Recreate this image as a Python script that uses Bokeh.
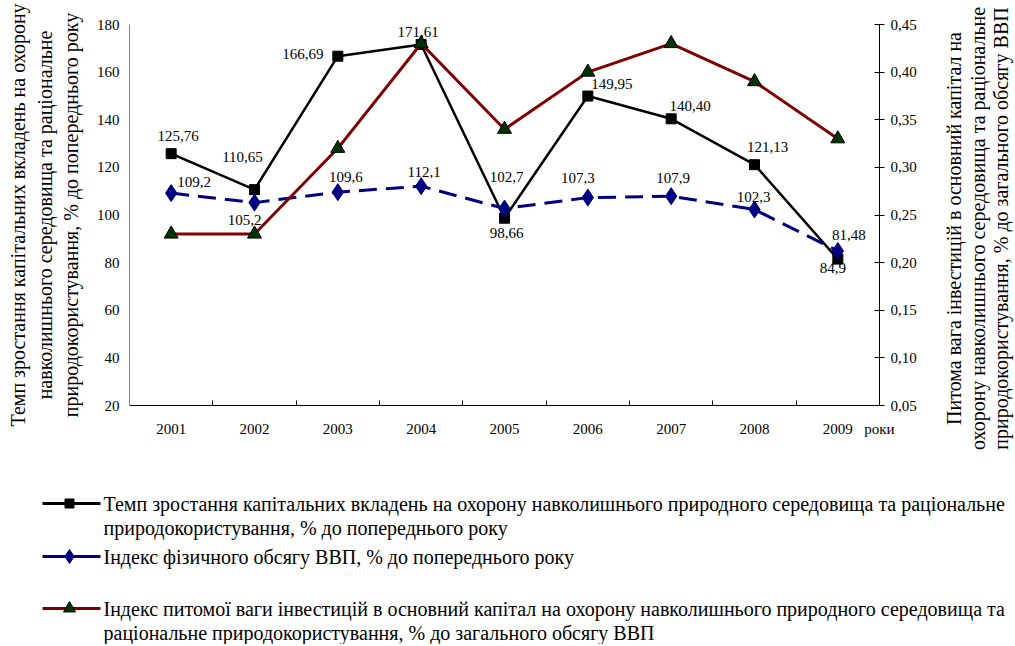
import math
from bokeh.plotting import figure
from bokeh.models import Range1d, LinearAxis, FixedTicker, CustomJSTickFormatter, ColumnDataSource
from bokeh.layouts import column, row
from bokeh.embed import file_html
from bokeh.resources import INLINE
from bokeh.core.properties import value

# ---------------- data ----------------
years = [2001, 2002, 2003, 2004, 2005, 2006, 2007, 2008, 2009]
capex_growth = [125.76, 110.65, 166.69, 171.61, 98.66, 149.95, 140.40, 121.13, 81.48]
gdp_index = [109.2, 105.2, 109.6, 112.1, 102.7, 107.3, 107.9, 102.3, 84.9]
invest_share = [0.23, 0.23, 0.32, 0.43, 0.34, 0.40, 0.43, 0.39, 0.33]
left_ticks = [20, 40, 60, 80, 100, 120, 140, 160, 180]
right_ticks = [0.05, 0.10, 0.15, 0.20, 0.25, 0.30, 0.35, 0.40, 0.45]

left_title = ("Темп зростання капітальних вкладень на охорону\n"
              "навколишнього середовища та раціональне\n"
              "природокористування, % до попереднього року")
right_title_lines = ["Питома вага інвестицій в основний капітал на",
                     "охорону навколишнього середовища та раціональне",
                     "природокористування, % до загального обсягу ВВП"]
x_unit = "роки"
legend_texts = [
    ["Темп зростання капітальних вкладень на охорону навколишнього природного середовища та раціональне",
     "природокористування, % до попереднього року"],
    ["Індекс фізичного обсягу ВВП, % до попереднього року"],
    ["Індекс питомої ваги інвестицій в основний капітал на охорону навколишнього природного середовища та",
     "раціональне природокористування,  % до загального обсягу ВВП"],
]

# label placement offsets (screen px, +dx right, +dy down)
capex_dx = [7, -12, -35, -3, 2, 24, 19, 13, 11]
capex_dy = [-18, -33, -2, -12, 15, -12, -13, -18, -24]
gdp_dx = [23, -10, 8, 3, 2, -10, 2, -1, -5]
gdp_dy = [-11, 17, -15, -14, -32, -20, -18, -13, 17]

FONT = "Liberation Serif"
BLACK = "#000000"
NAVY = "#000080"
MAROON = "#800000"
TRI_FILL = "#003300"

def fmt(v, d):
    return f"{v:.{d}f}".replace(".", ",")

W_MAIN = 940
H_MAIN = 488

# ---------------- main chart ----------------
p = figure(width=W_MAIN, height=H_MAIN, x_range=Range1d(2000.5, 2009.5), y_range=Range1d(20, 180),
           output_backend="svg", toolbar_location=None,
           min_border_left=129, min_border_right=W_MAIN - 879, min_border_top=24, min_border_bottom=83)
p.frame_align = False
p.extra_y_ranges = {"share": Range1d(0.05, 0.45)}
p.grid.visible = False
p.outline_line_color = None
p.border_fill_color = "white"

xa = p.xaxis[0]
xa.ticker = FixedTicker(ticks=years + [years[-1] + 0.5], minor_ticks=[y + 0.5 for y in years])
xa.formatter = CustomJSTickFormatter(args=dict(unit=x_unit, last=years[-1]),
                                     code="return tick > last + 0.25 ? unit : tick.toFixed(0)")
xa.major_tick_in = 0
xa.major_tick_out = 0
xa.minor_tick_in = 5
xa.minor_tick_out = 0
xa.minor_tick_line_color = BLACK
xa.axis_line_color = BLACK
xa.major_label_text_font = FONT
xa.major_label_text_font_size = "15px"
xa.major_label_text_color = BLACK
xa.major_label_standoff = 15

ya = p.yaxis[0]
ya.ticker = FixedTicker(ticks=left_ticks)
ya.formatter = CustomJSTickFormatter(code="return tick.toFixed(0)")
ya.major_tick_in = 0
ya.major_tick_out = 0
ya.minor_tick_line_color = None
ya.axis_line_color = "#808080"
ya.major_label_text_font = FONT
ya.major_label_text_font_size = "15px"
ya.major_label_text_color = BLACK
ya.major_label_standoff = 10
ya.axis_label = left_title
ya.axis_label_text_font = FONT
ya.axis_label_text_font_size = "20px"
ya.axis_label_text_font_style = "normal"
ya.axis_label_text_color = BLACK
ya.axis_label_standoff = 12

ra = LinearAxis(y_range_name="share", ticker=FixedTicker(ticks=right_ticks),
                formatter=CustomJSTickFormatter(code="return tick.toFixed(2).replace('.', ',')"))
ra.major_tick_in = 5
ra.major_tick_out = 5
ra.minor_tick_line_color = None
ra.axis_line_color = BLACK
ra.major_label_text_font = FONT
ra.major_label_text_font_size = "15px"
ra.major_label_text_color = BLACK
ra.major_label_standoff = 6
p.add_layout(ra, "right")

src = ColumnDataSource(dict(
    x=years, capex=capex_growth, gdp=gdp_index, share=invest_share,
    capex_lbl=[fmt(v, 2) for v in capex_growth],
    gdp_lbl=[fmt(v, 1) for v in gdp_index],
    cdx=capex_dx, cdy=capex_dy, gdx=gdp_dx, gdy=gdp_dy,
))

# black series
p.line("x", "capex", source=src, line_color=BLACK, line_width=2.5)
p.scatter("x", "capex", source=src, marker="square", size=10, fill_color=BLACK, line_color=BLACK)
# blue dashed series
p.line("x", "gdp", source=src, line_color=NAVY, line_width=3, line_dash="18 9")
p.scatter("x", "gdp", source=src, marker="diamond", size=17, fill_color=NAVY, line_color=NAVY)
# red series (right axis)
p.line("x", "share", source=src, y_range_name="share", line_color=MAROON, line_width=3)
p.scatter("x", "share", source=src, y_range_name="share", marker="triangle", size=14,
          fill_color=TRI_FILL, line_color=BLACK)

p.text("x", "capex", text="capex_lbl", source=src, x_offset="cdx", y_offset="cdy",
       text_font=value(FONT), text_font_size="15px", text_color=BLACK,
       text_align="center", text_baseline="middle")
p.text("x", "gdp", text="gdp_lbl", source=src, x_offset="gdx", y_offset="gdy",
       text_font=value(FONT), text_font_size="15px", text_color=BLACK,
       text_align="center", text_baseline="middle")

# ---------------- right-axis title panel ----------------
W_T = 1015 - W_MAIN
tf = figure(width=W_T, height=H_MAIN, x_range=Range1d(0, W_T), y_range=Range1d(H_MAIN, 0),
            output_backend="svg", toolbar_location=None, min_border=0)
tf.frame_align = False
tf.axis.visible = False
tf.grid.visible = False
tf.outline_line_color = None
title_x = [13, 37, 60]
tf.text(title_x, [228] * len(right_title_lines), text=right_title_lines, angle=math.pi / 2,
        text_font=value(FONT), text_font_size="20px", text_color=BLACK,
        text_align="center", text_baseline="middle")

# ---------------- legend panel ----------------
LG_H = 156
lg = figure(width=1015, height=LG_H, x_range=Range1d(0, 1015), y_range=Range1d(LG_H, 0),
            output_backend="svg", toolbar_location=None, min_border=0)
lg.frame_align = False
lg.axis.visible = False
lg.grid.visible = False
lg.outline_line_color = None

rows_y = [15, 68, 120]
line_gap = 24
styles = [
    dict(color=BLACK, marker="square", size=9, fill=BLACK, mline=BLACK),
    dict(color=NAVY, marker="diamond", size=14, fill=NAVY, mline=NAVY),
    dict(color=MAROON, marker="triangle", size=12, fill=TRI_FILL, mline=BLACK),
]
for ry, st, texts in zip(rows_y, styles, legend_texts):
    lg.line([42, 100], [ry, ry], line_color=st["color"], line_width=3)
    lg.scatter([69], [ry], marker=st["marker"], size=st["size"], fill_color=st["fill"], line_color=st["mline"])
    lg.text([103] * len(texts), [ry + i * line_gap for i in range(len(texts))], text=texts,
            text_font=value(FONT), text_font_size="20px", text_color=BLACK,
            text_align="left", text_baseline="middle")

layout = column(row(p, tf), lg)
open("out.html", "w").write(file_html(layout, INLINE))
